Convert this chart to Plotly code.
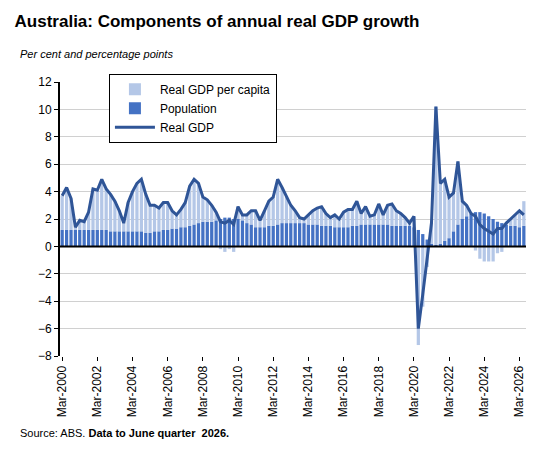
import pandas as pd
import plotly.graph_objects as go

quarters = pd.date_range("2000-03-01", periods=106, freq="QS-MAR")

real_gdp = [
    3.7, 4.3, 3.5, 1.4, 1.9, 1.8, 2.5, 4.2, 4.1, 4.9, 4.2, 3.8,
    3.3, 2.6, 1.7, 3.2, 4.0, 4.6, 4.9, 3.8, 3.0, 3.0, 2.8, 3.2,
    3.2, 2.6, 2.3, 2.7, 3.2, 4.4, 4.9, 4.6, 3.6, 3.4, 3.0, 2.5,
    1.8, 1.7, 1.9, 1.6, 2.9, 2.3, 2.3, 2.6, 2.6, 1.9, 2.6, 3.3,
    3.6, 4.9, 4.3, 3.6, 3.0, 2.6, 2.1, 2.0, 2.3, 2.6, 2.8, 2.9,
    2.4, 2.1, 2.3, 2.0, 2.5, 2.7, 2.7, 3.3, 2.4, 2.9, 2.2, 2.3,
    3.1, 2.3, 3.0, 3.1, 2.6, 2.4, 2.1, 1.7, 2.2, -6.0, -3.5, -1.0,
    1.7, 10.2, 4.6, 4.9, 3.6, 3.9, 6.2, 3.3, 3.0, 2.4, 2.2, 1.6,
    1.3, 1.1, 0.9, 1.3, 1.3, 1.7, 2.0, 2.3, 2.6, 2.3,
]
population = [
    1.2, 1.2, 1.2, 1.2, 1.2, 1.2, 1.2, 1.2, 1.2, 1.2, 1.2, 1.1,
    1.1, 1.1, 1.1, 1.1, 1.1, 1.1, 1.1, 1.0, 1.0, 1.1, 1.1, 1.2,
    1.2, 1.3, 1.3, 1.4, 1.4, 1.5, 1.6, 1.7, 1.8, 1.8, 1.8, 1.9,
    2.0, 2.1, 2.1, 2.0, 2.0, 1.9, 1.7, 1.6, 1.4, 1.4, 1.4, 1.5,
    1.5, 1.6, 1.7, 1.7, 1.7, 1.7, 1.7, 1.7, 1.6, 1.6, 1.6, 1.5,
    1.5, 1.5, 1.4, 1.4, 1.4, 1.4, 1.5, 1.5, 1.6, 1.6, 1.6, 1.6,
    1.6, 1.6, 1.6, 1.5, 1.5, 1.5, 1.5, 1.5, 1.4, 1.2, 0.9, 0.5,
    0.2, 0.1, 0.2, 0.4, 0.6, 1.1, 1.6, 2.0, 2.2, 2.4, 2.5, 2.5,
    2.4, 2.2, 2.0, 1.8, 1.7, 1.6, 1.5, 1.5, 1.4, 1.5,
]
per_capita = [round(g - p, 2) for g, p in zip(real_gdp, population)]
# last bar shows a bit higher than the line
per_capita[-1] = 1.8

tick_vals = [d for d in quarters if d.month == 3 and d.year % 2 == 0]
tick_text = [d.strftime("Mar-%Y") for d in tick_vals]

fig = go.Figure()
# population first so it sits at the bottom of the stack
fig.add_bar(x=quarters, y=population, name="Population", legendrank=2,
            marker_color="#4472c4", marker_line_width=0)
fig.add_bar(x=quarters, y=per_capita, name="Real GDP per capita", legendrank=1,
            marker_color="#b4c7e7", marker_line_width=0)
fig.add_scatter(x=quarters, y=real_gdp, name="Real GDP", mode="lines", legendrank=3,
                line=dict(color="#2f5597", width=3))

fig.update_layout(
    width=548, height=454, barmode="relative", bargap=0.25,
    plot_bgcolor="white", paper_bgcolor="white",
    font=dict(family="Liberation Sans, Arial", size=12, color="#000"),
    margin=dict(l=52, r=30, t=74, b=106),
    legend=dict(x=0.105, y=1.03, xanchor="left", yanchor="top",
                bordercolor="#000", borderwidth=1, bgcolor="white",
                font=dict(size=12), itemwidth=40,
                tracegroupgap=12),
    title=dict(text="<b>Australia: Components of annual real GDP growth</b>",
               x=0.012, y=0.985, xanchor="left", font=dict(size=17)),
    annotations=[
        dict(text="<i>Per cent and percentage points</i>", xref="paper", yref="paper",
             x=-0.09, y=1.13, xanchor="left", showarrow=False, font=dict(size=11)),
        dict(text="Source: ABS. <b>Data to June quarter  2026.</b>", xref="paper", yref="paper",
             x=-0.09, y=-0.31, xanchor="left", showarrow=False, font=dict(size=11)),
    ],
)
fig.update_yaxes(range=[-8, 12], dtick=2, showgrid=True, gridcolor="#d0d0d0",
                 zeroline=False, showline=True, linecolor="#000", linewidth=2,
                 ticks="outside", ticklen=4, tickcolor="#000")
fig.update_xaxes(range=[quarters[0] - pd.Timedelta(days=45), quarters[-1] + pd.Timedelta(days=45)],
                 tickvals=tick_vals, ticktext=tick_text, tickangle=-90,
                 showgrid=False, showline=False, ticks="outside", ticklen=4,
                 tickcolor="#000")
fig.add_hline(y=0, line_color="#000", line_width=2)

fig.write_html("out.html")
